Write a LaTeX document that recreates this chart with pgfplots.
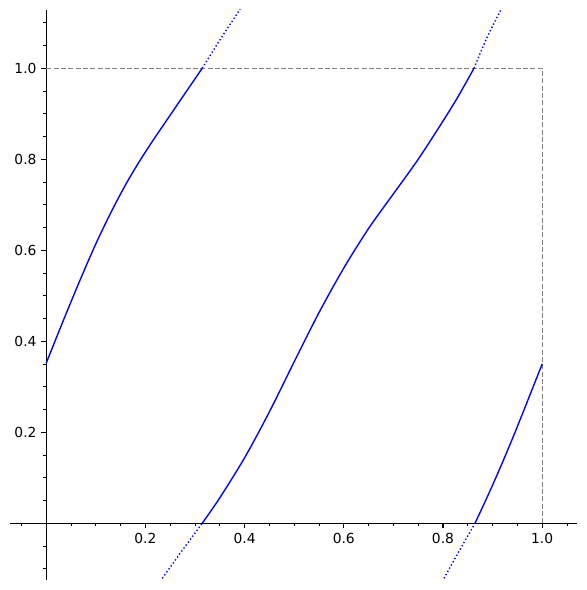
\documentclass[border=0pt]{standalone}
\usepackage{pgfplots}
\pgfplotsset{compat=1.18}
\usepackage{fontspec}
\setmainfont{DejaVu Sans}
\begin{document}
\begin{tikzpicture}
\useasboundingbox (-7.2bp,-7.2bp) rectangle (415.44bp,417.6bp);
\begin{axis}[
  at={(0,0)}, anchor=south west,
  scale only axis, width=408.46bp, height=410.4bp,
  xmin=-0.073, xmax=1.0708, ymin=-0.1246, ymax=1.1281,
  axis lines=middle,
  axis line style={-, line width=0.8pt, black},
  xtick={0.2,0.4,0.6,0.8,1.0}, ytick={0.2,0.4,0.6,0.8,1.0},
  minor xtick={-0.05,0.05,0.1,0.15,0.25,0.3,0.35,0.45,0.5,0.55,0.65,0.7,0.75,0.85,0.9,0.95,1.05},
  minor ytick={-0.1,-0.05,0.05,0.1,0.15,0.25,0.3,0.35,0.45,0.5,0.55,0.65,0.7,0.75,0.85,0.9,0.95,1.05,1.1},
  tick align=outside,
  major tick length=3.5pt, minor tick length=2pt,
  every major tick/.style={line width=0.8pt, black},
  every minor tick/.style={line width=0.6pt, black},
  /pgf/number format/assume math mode=true,
  /pgf/number format/.cd, fixed, fixed zerofill, precision=1, /pgfplots/.cd,
  tick label style={font=\fontsize{10}{12}\selectfont, black},
  clip=true,
]
\addplot[gray, line width=1pt, dash pattern=on 3.7pt off 1.6pt] coordinates {(0,1) (1,1) (1,0)};
% branch 1
\addplot[blue, line width=1pt, smooth, tension=0.5] coordinates {
(0,0.352) (0.035,0.447) (0.07,0.539) (0.10,0.614) (0.13,0.682) (0.16,0.744)
(0.19,0.799) (0.22,0.849) (0.25,0.897) (0.28,0.945) (0.3145,1.0)};
\addplot[blue, line width=1pt, dash pattern=on 1pt off 1.65pt, smooth, tension=0.5] coordinates {
(0.3145,1.0) (0.35,1.062) (0.391,1.13)};
% branch 2
\addplot[blue, line width=1pt, dash pattern=on 1pt off 1.65pt, smooth, tension=0.5] coordinates {
(0.234,-0.121) (0.274,-0.060) (0.3145,0)};
\addplot[blue, line width=1pt, smooth, tension=0.5] coordinates {
(0.3145,0) (0.35,0.056) (0.40,0.144) (0.45,0.245) (0.50,0.355) (0.55,0.463) (0.60,0.561)
(0.65,0.648) (0.70,0.724) (0.75,0.800) (0.80,0.884) (0.83,0.937) (0.8625,1.0)};
\addplot[blue, line width=1pt, dash pattern=on 1pt off 1.65pt, smooth, tension=0.5] coordinates {
(0.8625,1.0) (0.888,1.066) (0.916,1.127)};
% branch 3
\addplot[blue, line width=1pt, dash pattern=on 1pt off 1.65pt, smooth, tension=0.5] coordinates {
(0.802,-0.121) (0.833,-0.060) (0.8645,0)};
\addplot[blue, line width=1pt, smooth, tension=0.5] coordinates {
(0.8645,0) (0.88,0.036) (0.90,0.084) (0.92,0.134) (0.94,0.186) (0.96,0.240) (0.98,0.295) (1.0,0.350)};
\end{axis}
\end{tikzpicture}
\end{document}
